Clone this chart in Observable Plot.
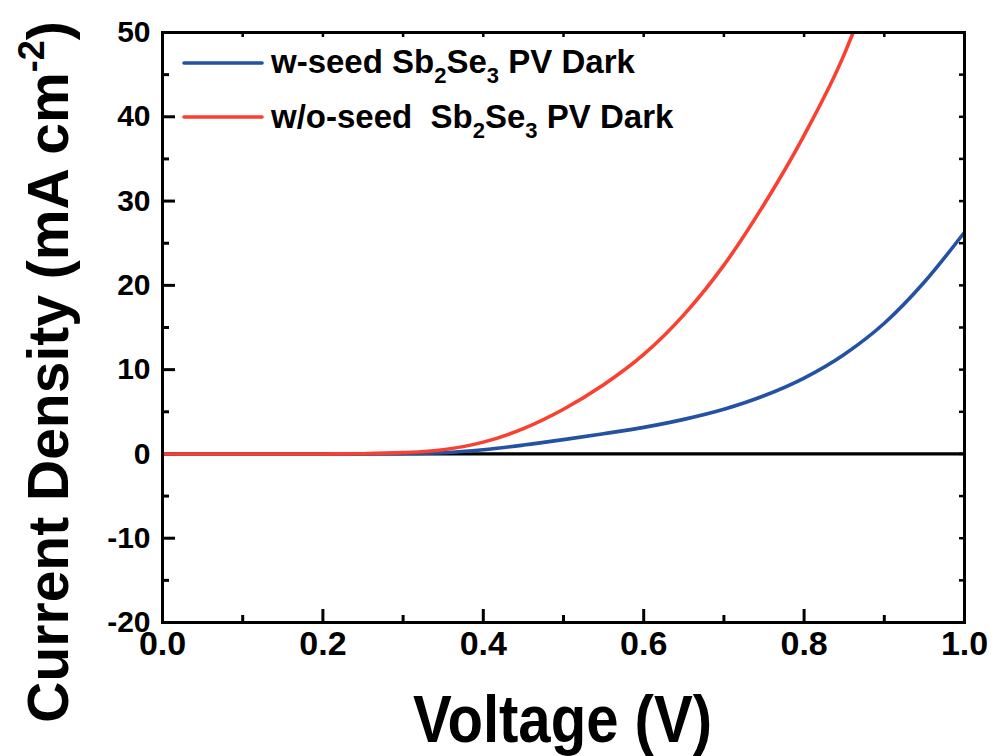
<!DOCTYPE html>
<html>
<head>
<meta charset="utf-8">
<script src="https://cdn.jsdelivr.net/npm/d3@7"></script>
<script src="https://cdn.jsdelivr.net/npm/@observablehq/plot@0.6"></script>
<style>
  html, body { margin: 0; padding: 0; background: #fff; }
  #chart svg { display: block; }
</style>
</head>
<body>
<div id="chart"></div>
<script>
// ---- data ----
const voltage = [0, 0.05, 0.1, 0.15, 0.2, 0.25, 0.3, 0.35, 0.4, 0.45, 0.5, 0.55, 0.6, 0.65, 0.7, 0.75, 0.8, 0.85, 0.9, 0.95, 1.0];
const wSeed = [0, 0, 0, 0, 0, 0.01, 0.04, 0.15, 0.5, 1.05, 1.7, 2.4, 3.15, 4.1, 5.3, 6.9, 9.0, 11.8, 15.5, 20.4, 26.3];
const woVoltage = [0, 0.05, 0.1, 0.15, 0.2, 0.25, 0.3, 0.35, 0.4, 0.45, 0.5, 0.55, 0.6, 0.65, 0.7, 0.75, 0.8, 0.85, 0.862];
const woSeed = [0, 0, 0, 0, 0, 0.03, 0.15, 0.5, 1.4, 3.0, 5.3, 8.2, 11.8, 16.5, 22.4, 29.6, 37.8, 47.4, 50.2];

const xMajor = [0, 0.2, 0.4, 0.6, 0.8, 1.0];
const xMinor = [0.1, 0.3, 0.5, 0.7, 0.9];
const yMajor = [-20, -10, 0, 10, 20, 30, 40, 50];
const yMinor = [-15, -5, 5, 15, 25, 35, 45];

const seriesNames = ["w-seed", "w/o-seed"];
const seriesColors = ["#2352a3", "#fa4030"];

const wData = voltage.map((v, i) => ({v, j: wSeed[i]}));
const woData = woVoltage.map((v, i) => ({v, j: woSeed[i]}));

const font = "'Liberation Sans', Arial, sans-serif";

const W = 995, H = 756, ML = 162, MR = 31, MT = 32, MB = 134;
const FW = W - ML - MR, FH = H - MT - MB;
const majorLen = 13, minorLen = 7, mirrorLen = 5;

const chart = Plot.plot({
  width: W,
  height: H,
  marginLeft: ML,
  marginRight: MR,
  marginTop: MT,
  marginBottom: MB,
  style: {fontFamily: font, background: "#fff", color: "#000"},
  x: {domain: [0, 1]},
  y: {domain: [-20, 50]},
  marks: [
    // inward ticks: bottom
    Plot.tickX(xMajor, {x: d => d, insetTop: FH - majorLen, stroke: "#000", strokeWidth: 3}),
    Plot.tickX(xMinor, {x: d => d, insetTop: FH - minorLen, stroke: "#000", strokeWidth: 3}),
    // top mirror
    Plot.tickX(xMajor.concat(xMinor), {x: d => d, insetBottom: FH - mirrorLen, stroke: "#000", strokeWidth: 2.5}),
    // left
    Plot.tickY(yMajor, {y: d => d, insetRight: FW - majorLen, stroke: "#000", strokeWidth: 3}),
    Plot.tickY(yMinor, {y: d => d, insetRight: FW - minorLen, stroke: "#000", strokeWidth: 3}),
    // right mirror
    Plot.tickY(yMajor.concat(yMinor), {y: d => d, insetLeft: FW - mirrorLen, stroke: "#000", strokeWidth: 2.5}),
    Plot.ruleY([0], {stroke: "#000", strokeWidth: 3.2}),
    Plot.line(wData, {x: "v", y: "j", stroke: seriesColors[0], strokeWidth: 3.6, curve: "monotone-x", clip: true}),
    Plot.line(woData, {x: "v", y: "j", stroke: seriesColors[1], strokeWidth: 3.6, curve: "monotone-x", clip: true}),
    Plot.frame({stroke: "#000", strokeWidth: 3}),
    Plot.axisX({anchor: "bottom", ticks: xMajor, tickSize: 0, tickPadding: 8, tickFormat: d3.format(".1f"), fontSize: 34, fontWeight: "bold", label: null}),
    Plot.axisY({anchor: "left", ticks: yMajor, tickSize: 0, tickPadding: 12, tickFormat: d => String(d), fontSize: 30, fontWeight: "bold", label: null})
  ]
});

document.getElementById("chart").appendChild(chart);

const svg = d3.select(chart);

// x axis title (condensed, tall)
svg.append("text")
  .attr("x", 413).attr("y", 742)
  .attr("text-anchor", "start")
  .attr("textLength", 299).attr("lengthAdjust", "spacingAndGlyphs")
  .attr("font-family", font).attr("font-weight", "bold").attr("font-size", 67)
  .attr("fill", "#000")
  .text("Voltage (V)");

// y axis title with superscript
const yt = svg.append("text")
  .attr("transform", "translate(68,372) rotate(-90)")
  .attr("text-anchor", "middle")
  .attr("font-family", font).attr("font-weight", "bold").attr("font-size", 57)
  .attr("fill", "#000");
yt.append("tspan").text("Current Density (mA cm");
yt.append("tspan").attr("font-size", 36).attr("dy", -24).text("-2");
yt.append("tspan").attr("dy", 24).text(")");

// legend
const legendRows = [
  {name: seriesNames[0], gap: " ", y: 73, lineY: 63},
  {name: seriesNames[1], gap: "\u00a0 ", y: 128, lineY: 117}
];
legendRows.forEach((r, i) => {
  svg.append("line")
    .attr("x1", 184).attr("x2", 262).attr("y1", r.lineY).attr("y2", r.lineY)
    .attr("stroke", seriesColors[i]).attr("stroke-width", 3.6).attr("stroke-linecap", "round");
  const t = svg.append("text")
    .attr("x", 271).attr("y", r.y)
    .attr("text-anchor", "start")
    .attr("font-family", font).attr("font-weight", "bold").attr("font-size", 33)
    .attr("fill", "#000");
  t.append("tspan").text(r.name + r.gap + "Sb");
  t.append("tspan").attr("font-size", 22).attr("dy", 10).text("2");
  t.append("tspan").attr("dy", -10).text("Se");
  t.append("tspan").attr("font-size", 22).attr("dy", 10).text("3");
  t.append("tspan").attr("dy", -10).text(" PV Dark");
});
</script>
</body>
</html>
